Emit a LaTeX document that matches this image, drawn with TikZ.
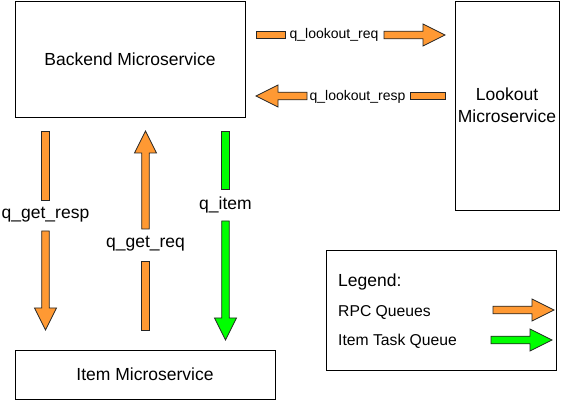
\documentclass[tikz,border=0pt]{standalone}
\usepackage{fontspec}
\setmainfont{Liberation Sans}
\usetikzlibrary{calc}
\definecolor{rpcorange}{RGB}{255,153,51}
\definecolor{itemgreen}{RGB}{0,255,0}
\tikzset{
 box/.style={draw=black, line width=0.9pt, inner sep=0pt, align=center, font=\fontsize{17.5}{22}\selectfont},
 bigtext/.style={font=\fontsize{17.5}{21}\selectfont, inner sep=0pt, anchor=base},
 smalltext/.style={font=\fontsize{14}{17}\selectfont, inner sep=0pt, anchor=base},
 legtext/.style={font=\fontsize{15.7}{19}\selectfont, inner sep=0pt, anchor=base west},
 flex/.style={draw=black!85, line width=0.8pt, line join=miter},
}
\newcommand{\flexshaft}[3]{%
  \draw[flex, fill=#3] ($(#1)!3.8pt!90:(#2)$) -- ($(#2)!3.8pt!-90:(#1)$) -- ($(#2)!3.8pt!90:(#1)$) -- ($(#1)!3.8pt!-90:(#2)$) -- cycle;}
\newcommand{\flexarrow}[3]{%
  \coordinate (fhb) at ($(#2)!22pt!(#1)$);
  \draw[flex, fill=#3] ($(#1)!3.8pt!90:(#2)$) -- ($(fhb)!3.8pt!90:(#2)$) -- ($(fhb)!11pt!90:(#2)$) -- (#2) -- ($(fhb)!11pt!-90:(#2)$) -- ($(fhb)!3.8pt!-90:(#2)$) -- ($(#1)!3.8pt!-90:(#2)$) -- cycle;}
\begin{document}
\begin{tikzpicture}[x=1pt, y=-1pt]
\useasboundingbox (0,0) rectangle (566,401);
% boxes
\node[box, minimum width=230pt, minimum height=116pt] (backend) at (130,59) {Backend Microservice};
\node[box, minimum width=104pt, minimum height=209pt] (lookout) at (507,105.5) {Lookout\\Microservice};
\node[box, minimum width=260pt, minimum height=49pt] (item) at (145,374.5) {Item Microservice};
\node[draw=black, line width=0.9pt, inner sep=0pt, minimum width=230pt, minimum height=120pt] (legend) at (441,310) {};
% coordinates
\coordinate (lrS) at (256,35); \coordinate (lrG1) at (285,35);
\coordinate (lrG2) at (384,35); \coordinate (lrT) at (445,35);
\coordinate (lpT) at (256,96); \coordinate (lpG2) at (307,96);
\coordinate (lpG1) at (410,96); \coordinate (lpS) at (445,96);
\coordinate (grS) at (45.5,131); \coordinate (grG1) at (45.5,200);
\coordinate (grG2) at (45.5,231); \coordinate (grT) at (45.5,330);
\coordinate (gqS) at (145.5,330); \coordinate (gqG1) at (145.5,261);
\coordinate (gqG2) at (145.5,229); \coordinate (gqT) at (145.5,131);
\coordinate (itS) at (225.5,131); \coordinate (itG1) at (225.5,189);
\coordinate (itG2) at (225.5,221); \coordinate (itT) at (225.5,340);
\coordinate (leO1) at (493,310); \coordinate (leO2) at (554,310);
\coordinate (leG1) at (491,340); \coordinate (leG2) at (552,340);
% arrows
\flexshaft{lrS}{lrG1}{rpcorange}
\flexarrow{lrG2}{lrT}{rpcorange}
\flexshaft{lpS}{lpG1}{rpcorange}
\flexarrow{lpG2}{lpT}{rpcorange}
\flexshaft{grS}{grG1}{rpcorange}
\flexarrow{grG2}{grT}{rpcorange}
\flexshaft{gqS}{gqG1}{rpcorange}
\flexarrow{gqG2}{gqT}{rpcorange}
\flexshaft{itS}{itG1}{itemgreen}
\flexarrow{itG2}{itT}{itemgreen}
\flexarrow{leO1}{leO2}{rpcorange}
\flexarrow{leG1}{leG2}{itemgreen}
% labels
\node[smalltext] (lreq) at (334,39) {q\_lookout\_req};
\node[smalltext] (lresp) at (357.5,101) {q\_lookout\_resp};
\node[bigtext] (getresp) at (45.5,219) {q\_get\_resp};
\node[bigtext] (getreq) at (145.5,248) {q\_get\_req};
\node[bigtext] (qitem) at (225.5,210) {q\_item};
% legend
\node[legtext, font=\fontsize{17.5}{21}\selectfont] (legtitle) at (338,286.5) {Legend:};
\node[legtext] (legrpc) at (338,316.5) {RPC Queues};
\node[legtext] (legitem) at (338,345) {Item Task Queue};
\end{tikzpicture}
\end{document}
